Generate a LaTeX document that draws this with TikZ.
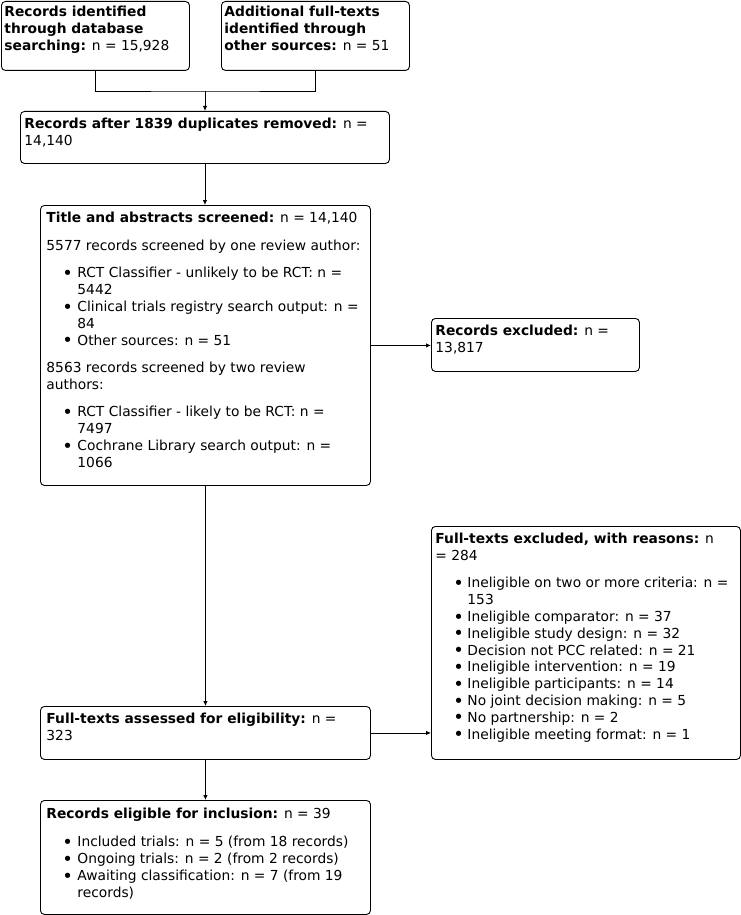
\documentclass[tikz,border=0pt]{standalone}
\usepackage{fontspec}
\usepackage{graphicx}
\setmainfont{DejaVu Sans}
\usetikzlibrary{arrows.meta}
\newcommand\boxbodyx[5]{\hspace*{#3pt}\parbox[c][#2pt][t]{\dimexpr #1pt - #3pt\relax}{\raggedright\setlength\parskip{0pt}\rule{0pt}{#4pt}#5}}
\newcommand\boxbody[4]{\boxbodyx{#1}{#2}{#3}{16.8}{#4}}
\newcommand\bul{\smash{\raisebox{-1.7pt}{\scalebox{1.3}{\textbullet}}}}
\newcommand\itm[2]{\makebox[#2pt][l]{\hspace*{#1pt}\bul}}
\newcommand\cnt[1]{\hspace*{#1pt}}
\begin{document}
\begin{tikzpicture}[x=1pt,y=-1pt,
  box/.style={draw, rounded corners=4pt, line width=0.9pt, inner sep=0pt, anchor=north west,
    font=\fontsize{13.8}{16.8}\selectfont},
  arr/.style={line width=0.9pt, -{Latex[length=5pt,width=4.5pt]}},
  con/.style={line width=0.9pt}]
\fill[white] (0,0) rectangle (741,915);
\useasboundingbox (0,0) rectangle (741,915);

\node[box, minimum width=188pt, minimum height=69pt] (A) at (1,1)
  {\boxbodyx{188}{69}{3}{15}{\textbf{Records identified}\\\textbf{through database}\\\textbf{searching:} n = 15,928}};
\node[box, minimum width=188pt, minimum height=69pt] (B) at (221,1)
  {\boxbodyx{188}{69}{3}{15}{\textbf{Additional full-texts}\\\textbf{identified through}\\\textbf{other sources:} n = 51}};
\node[box, minimum width=369pt, minimum height=52pt] (C) at (20,111)
  {\boxbody{369}{52}{4}{\textbf{Records after 1839 duplicates removed:} n =\\14,140}};
\node[box, minimum width=330pt, minimum height=280pt] (D) at (40,205)
  {\boxbody{330}{280}{6}{\textbf{Title and abstracts screened:} n = 14,140\\[11pt]
   5577 records screened by one review author:\\[11pt]
   \itm{16}{31}RCT Classifier - unlikely to be RCT: n =\\
   \cnt{31}5442\\
   \itm{16}{31}Clinical trials registry search output: n =\\
   \cnt{31}84\\
   \itm{16}{31}Other sources: n = 51\\[10.5pt]
   8563 records screened by two review\\
   authors:\\[11pt]
   \itm{16}{31}RCT Classifier - likely to be RCT: n =\\
   \cnt{31}7497\\
   \itm{16}{31}Cochrane Library search output: n =\\
   \cnt{31}1066}};
\node[box, minimum width=208pt, minimum height=53pt] (E) at (431,318)
  {\boxbody{208}{53}{4}{\textbf{Records excluded:} n =\\13,817}};
\node[box, minimum width=309pt, minimum height=233pt] (F) at (431,526)
  {\boxbody{309}{233}{4}{\textbf{Full-texts excluded, with reasons:} n\\= 284\\[11pt]
   \itm{18}{32}Ineligible on two or more criteria: n =\\
   \cnt{32}153\\
   \itm{18}{32}Ineligible comparator: n = 37\\
   \itm{18}{32}Ineligible study design: n = 32\\
   \itm{18}{32}Decision not PCC related: n = 21\\
   \itm{18}{32}Ineligible intervention: n = 19\\
   \itm{18}{32}Ineligible participants: n = 14\\
   \itm{18}{32}No joint decision making: n = 5\\
   \itm{18}{32}No partnership: n = 2\\
   \itm{18}{32}Ineligible meeting format: n = 1}};
\node[box, minimum width=330pt, minimum height=53pt] (G) at (40,706)
  {\boxbody{330}{53}{6}{\textbf{Full-texts assessed for eligibility:} n =\\323}};
\node[box, minimum width=330pt, minimum height=114pt] (H) at (40,800)
  {\boxbodyx{330}{114}{6}{18.5}{\textbf{Records eligible for inclusion:} n = 39\\[11pt]
   \itm{16}{31}Included trials: n = 5 (from 18 records)\\
   \itm{16}{31}Ongoing trials: n = 2 (from 2 records)\\
   \itm{16}{31}Awaiting classification: n = 7 (from 19\\
   \cnt{31}records)}};

\coordinate (j) at (205,91);
\draw[con] (A.south) |- (j) -| (B.south);
\draw[arr] (j) -- (j |- C.north);
\draw[arr] (C.south) -- (C.south |- D.north);
\draw[arr] (D.east) -- (D.east -| E.west);
\draw[arr] (D.south) -- (G.north);
\draw[arr] (G.east) -- (G.east -| F.west);
\draw[arr] (G.south) -- (H.north);
\end{tikzpicture}
\end{document}
